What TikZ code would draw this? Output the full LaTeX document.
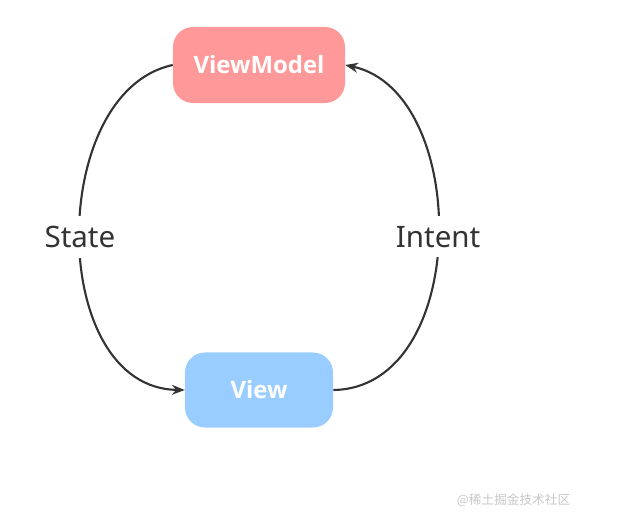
\documentclass[tikz,border=0pt]{standalone}
\usepackage{fontspec}
\setmainfont{Noto Sans}
\newfontfamily\boxfont{Open Sans}
\newfontfamily\cjkfont{Noto Sans CJK SC}
\usetikzlibrary{arrows.meta}
\definecolor{vmred}{HTML}{FF9999}
\definecolor{viewblue}{HTML}{99CCFF}
\definecolor{linegray}{HTML}{333333}

\begin{document}
\begin{tikzpicture}[x=0.025cm,y=-0.025cm,
  box/.style={rounded corners=0.5cm,text=white,font=\boxfont\bfseries\fontsize{17}{20}\selectfont,inner sep=0pt},
  flow/.style={-{Stealth[length=9pt,width=7pt]},linegray,line width=1.5pt},
  lbl/.style={fill=white,font=\fontsize{21}{25}\selectfont,text=linegray,inner xsep=2pt,inner ysep=7pt}]
  \useasboundingbox (0,0) rectangle (623,530);
  % Nodes
  \node[box,fill=vmred,minimum width=4.3cm,minimum height=1.9cm] (vm) at (259,65) {ViewModel};
  \node[box,fill=viewblue,minimum width=3.7cm,minimum height=1.875cm] (view) at (259,390) {View};
  % Connectors
  \draw[flow] (vm.west) .. controls (47,92) and (47,388) .. node[lbl] (state) {State} (view.west);
  \draw[flow] (view.east) .. controls (471,388) and (471,92) .. node[lbl] (intent) {Intent} (vm.east);
  % Watermark
  \node[font=\cjkfont\fontsize{9}{11}\selectfont,text=black!22,anchor=west] (mark) at (452,500) {@稀土掘金技术社区};
\end{tikzpicture}
\end{document}
